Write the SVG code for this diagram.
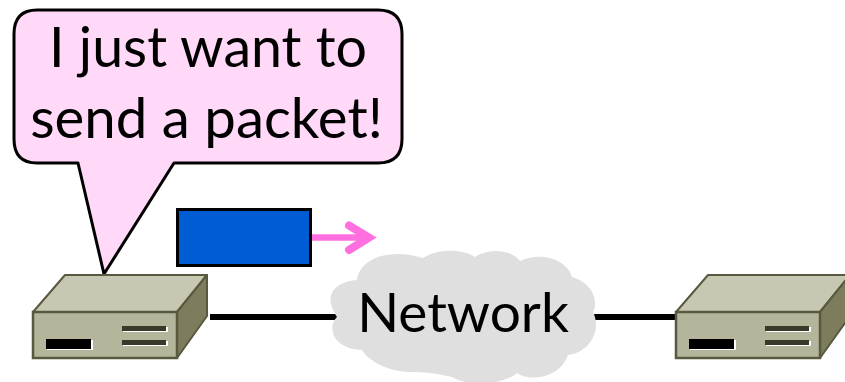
<svg xmlns="http://www.w3.org/2000/svg" width="845" height="382" viewBox="0 0 845 382">
<style>
.t{font-family:Lato,"Liberation Sans",sans-serif;fill:#000;text-anchor:middle}
.top{fill:#c8c8b2;stroke:#59593f;stroke-width:2;stroke-linejoin:round}
.side{fill:#7d7d5d;stroke:#59593f;stroke-width:2;stroke-linejoin:round}
.front{fill:#b5b59b;stroke:#59593f;stroke-width:2.5}
.w{fill:#fff}.k{fill:#000}.d{fill:#39392a}
.wire{stroke:#000;stroke-width:6;fill:none}
</style>
<defs>
<g id="router">
<path class="top" d="M33 312L65 275H207L177 312Z"/>
<path class="side" d="M177 312L207 275V316L177 358Z"/>
<rect class="front" x="33" y="312" width="144" height="46"/>
<rect class="w" x="47" y="340" width="46" height="10"/>
<rect class="k" x="46" y="339" width="45" height="10"/>
<rect class="w" x="123" y="327" width="45" height="5"/>
<rect class="d" x="122" y="326" width="44" height="5"/>
<rect class="w" x="123" y="341" width="45" height="5"/>
<rect class="d" x="122" y="340" width="44" height="5"/>
</g>
</defs>
<g id="connectors">
<path class="wire" d="M210 317H338"/>
<path class="wire" d="M594 317H676"/>
<path d="M311 237.500H366" stroke="#ff6fe0" stroke-width="6.500" fill="none"/>
<path d="M349 225.500L369 237.500L349 250" stroke="#ff6fe0" stroke-width="8" stroke-linecap="round" stroke-linejoin="miter" fill="none"/>
</g>
<g id="callout">
<path d="M37 10H378Q402 10 402 34V139Q402 163 378 163H174L104 274L78 163H37Q14 163 14 139V34Q14 10 37 10Z" fill="#ffd9f7" stroke="#000" stroke-width="3" stroke-linejoin="round"/>
<text class="t" x="208" y="67" font-size="55.500">I just want to</text>
<text class="t" x="206.500" y="138" font-size="56.400">send a packet!</text>
</g>
<g id="packet">
<rect x="177.500" y="209.500" width="133" height="56" fill="#005cd2" stroke="#000" stroke-width="3"/>
</g>
<g id="router-left"><use href="#router"/></g>
<g id="router-right"><use href="#router" x="643"/></g>
<g id="network">
<path d="M357 280C360 257 392 248 423 258C440 247 465 250 475 257C490 247 512 250 520 261C545 250 568 262 572 277C595 284 598 303 593 312C602 330 590 352 568 355C558 382 525 380 517 373C505 384 470 388 452 377C435 373 425 372 410 372C385 371 368 360 362 350C330 348 328 325 337 317C322 295 335 282 357 280Z" fill="#dfdfdf"/>
<text class="t" x="463" y="332" font-size="55">Network</text>
</g>
</svg>
